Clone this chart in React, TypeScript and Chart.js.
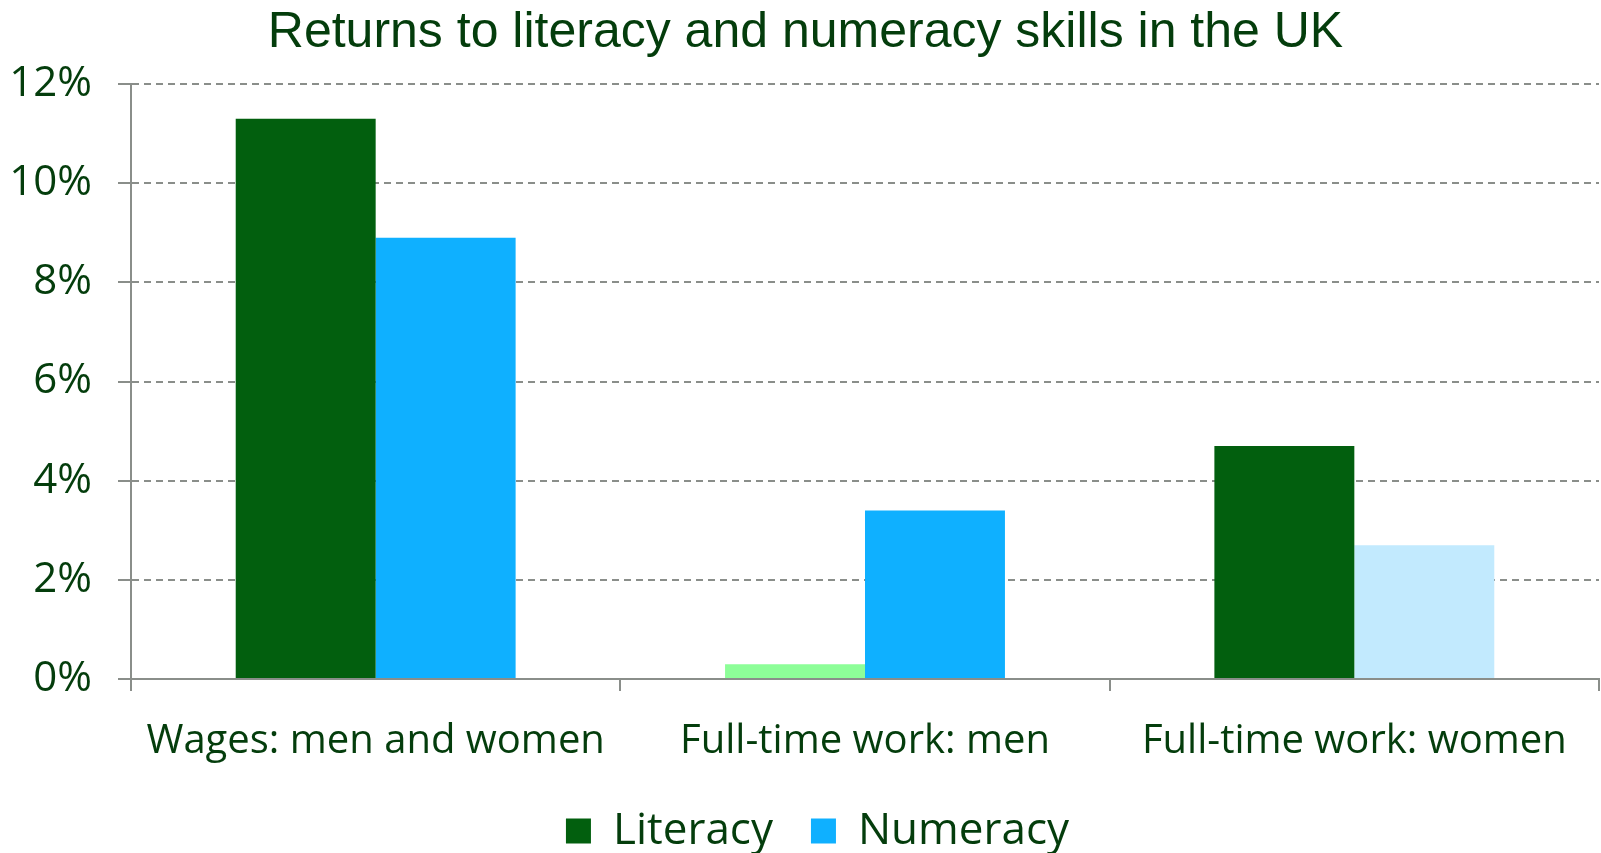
import React, { useEffect, useRef } from "react";
import { Chart, registerables } from "chart.js";

Chart.register(...registerables);

const categories = ["Wages: men and women", "Full-time work: men", "Full-time work: women"];
const literacyValues = [11.3, 0.3, 4.7];
const numeracyValues = [8.9, 3.4, 2.7];
const yTicks = [0, 2, 4, 6, 8, 10, 12];

const literacyColors = ["#025f0e", "#8dfe98", "#025f0e"];
const numeracyColors = ["#0fb0ff", "#0fb0ff", "#c2eafe"];

const TEXT = "#043d0c";
const GRID = "#8a8e8a";

const shiftPlugin = {
  id: "shiftBlocks",
  afterLayout(chart: any) {
    if (chart.legend) {
      chart.legend.left += 18;
      chart.legend.right += 18;
    }
    if (chart.titleBlock) {
      chart.titleBlock.left += 6;
      chart.titleBlock.right += 6;
    }
  },
};

export default function App() {
  const ref = useRef<HTMLCanvasElement | null>(null);
  useEffect(() => {
    if (!ref.current) return;
    Chart.defaults.font.family = "'Open Sans', 'Noto Sans', sans-serif";
    const chart = new Chart(ref.current, {
      type: "bar",
      data: {
        labels: categories,
        datasets: [
          {
            label: "Literacy",
            data: literacyValues,
            backgroundColor: literacyColors,
            borderWidth: 0,
          },
          {
            label: "Numeracy",
            data: numeracyValues,
            backgroundColor: numeracyColors,
            borderWidth: 0,
          },
        ],
      },
      plugins: [shiftPlugin],
      options: {
        responsive: false,
        animation: false,
        layout: { padding: { left: 0, right: 2, top: 0, bottom: -10 } },
        datasets: {
          bar: { categoryPercentage: 0.572, barPercentage: 1 },
        },
        plugins: {
          title: {
            display: true,
            text: "Returns to literacy and numeracy skills in the UK",
            color: TEXT,
            font: { family: "'Liberation Sans', Arial, sans-serif", size: 50, weight: "normal", lineHeight: 1.2 },
            padding: { top: 3, bottom: 21 },
          },
          legend: {
            display: true,
            position: "bottom",
            labels: {
              color: TEXT,
              font: { size: 44 },
              boxWidth: 25,
              boxHeight: 25,
              padding: 38,
            },
          },
          tooltip: { enabled: false },
        },
        scales: {
          x: {
            afterFit(scale: any) {
              scale.height = 92;
            },
            grid: {
              display: true,
              drawOnChartArea: false,
              drawTicks: true,
              tickLength: 12,
              color: GRID,
              lineWidth: 2,
              offset: true,
            },
            border: { display: true, color: GRID, width: 2 },
            ticks: {
              color: TEXT,
              font: { size: 40, lineHeight: 1.2 },
              padding: 27,
              maxRotation: 0,
              autoSkip: false,
            },
          },
          y: {
            min: 0,
            max: 12,
            afterBuildTicks(scale: any) {
              scale.ticks = yTicks.map((v) => ({ value: v }));
            },
            afterFit(scale: any) {
              scale.width = 131;
            },
            grid: {
              display: true,
              drawOnChartArea: true,
              drawTicks: true,
              tickLength: 13,
              color: GRID,
              lineWidth: 2,
              tickColor: GRID,
            },
            border: { display: true, color: GRID, width: 2, dash: [7, 5] },
            ticks: {
              color: TEXT,
              font: { size: 42, lineHeight: 1.2 },
              padding: 26,
              callback: (v: any) => `${v}%`,
            },
          },
        },
      },
    });
    return () => chart.destroy();
  }, []);
  return (
    <div style={{ position: "fixed", left: 0, top: 0, width: 1601, height: 853, background: "#fff" }}>
      <canvas ref={ref} width={1601} height={853} style={{ display: "block" }} />
    </div>
  );
}
